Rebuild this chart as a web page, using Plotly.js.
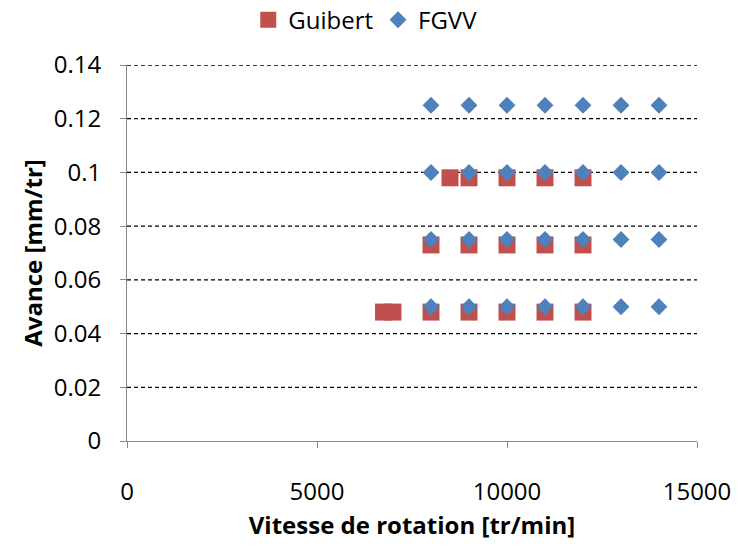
<!DOCTYPE html>
<html>
<head>
<meta charset="utf-8">
<script src="https://cdn.plot.ly/plotly-3.0.1.min.js"></script>
<style>html,body{margin:0;padding:0;background:#fff;}#chart{width:740px;height:546px;}</style>
</head>
<body>
<div id="chart"></div>
<script>
const guibertX = [6750, 7000, 8000, 9000, 10000, 11000, 12000,
                  8000, 9000, 10000, 11000, 12000,
                  8500, 9000, 10000, 11000, 12000];
const guibertY = [0.048, 0.048, 0.048, 0.048, 0.048, 0.048, 0.048,
                  0.073, 0.073, 0.073, 0.073, 0.073,
                  0.098, 0.098, 0.098, 0.098, 0.098];
const fgvvX = [8000, 9000, 10000, 11000, 12000, 13000, 14000,
               8000, 9000, 10000, 11000, 12000, 13000, 14000,
               8000, 9000, 10000, 11000, 12000, 13000, 14000,
               8000, 9000, 10000, 11000, 12000, 13000, 14000];
const fgvvY = [0.05, 0.05, 0.05, 0.05, 0.05, 0.05, 0.05,
               0.075, 0.075, 0.075, 0.075, 0.075, 0.075, 0.075,
               0.1, 0.1, 0.1, 0.1, 0.1, 0.1, 0.1,
               0.125, 0.125, 0.125, 0.125, 0.125, 0.125, 0.125];
const yTicks = [0, 0.02, 0.04, 0.06, 0.08, 0.1, 0.12, 0.14];
const yTickText = ['0', '0.02', '0.04', '0.06', '0.08', '0.1', '0.12', '0.14'];
const xTicks = [0, 5000, 10000, 15000];

const font = "Open Sans, Liberation Sans, sans-serif";
const data = [
  {x: guibertX, y: guibertY, name: 'Guibert', type: 'scatter', mode: 'markers',
   marker: {symbol: 'square', size: 17, color: '#C0504D'}},
  {x: fgvvX, y: fgvvY, name: 'FGVV', type: 'scatter', mode: 'markers',
   marker: {symbol: 'diamond', size: 13, color: '#4F81BD'}}
];
const gridShapes = yTicks.filter(v => v > 0).map(v => ({
  type: 'line', xref: 'paper', x0: 0, x1: 1, yref: 'y', y0: v, y1: v,
  line: {color: '#000', width: 1.3, dash: '4px,3px'}, layer: 'below'
}));
const layout = {
  width: 740, height: 546,
  margin: {l: 127, r: 43, t: 65, b: 105},
  paper_bgcolor: '#fff', plot_bgcolor: '#fff',
  font: {family: font, color: '#000', size: 24},
  showlegend: true,
  legend: {orientation: 'h', x: 0.418, xanchor: 'center',
           yref: 'container', y: 0.963, yanchor: 'middle',
           font: {size: 24}, itemwidth: 30, tracegroupgap: 0},
  xaxis: {range: [0, 15000], tickvals: xTicks, ticktext: xTicks.map(String),
          tickfont: {size: 24},
          showgrid: false, zeroline: false, showline: true, linecolor: '#888', linewidth: 1,
          ticks: 'outside', ticklen: 6, tickcolor: '#888', ticklabelstandoff: 23,
          title: {text: '<b>Vitesse de rotation [tr/min]</b>', font: {size: 24}, standoff: 11}},
  yaxis: {range: [0, 0.14], tickvals: yTicks, ticktext: yTickText,
          tickfont: {size: 24},
          showgrid: false, zeroline: false, showline: true, linecolor: '#888', linewidth: 1,
          ticks: 'outside', ticklen: 6, tickcolor: '#888', ticklabelstandoff: 14,
          title: {text: '<b>Avance [mm/tr]</b>', font: {size: 24}, standoff: 4}},
  shapes: gridShapes
};
Plotly.newPlot('chart', data, layout, {displayModeBar: false, staticPlot: true});
</script>
</body>
</html>
